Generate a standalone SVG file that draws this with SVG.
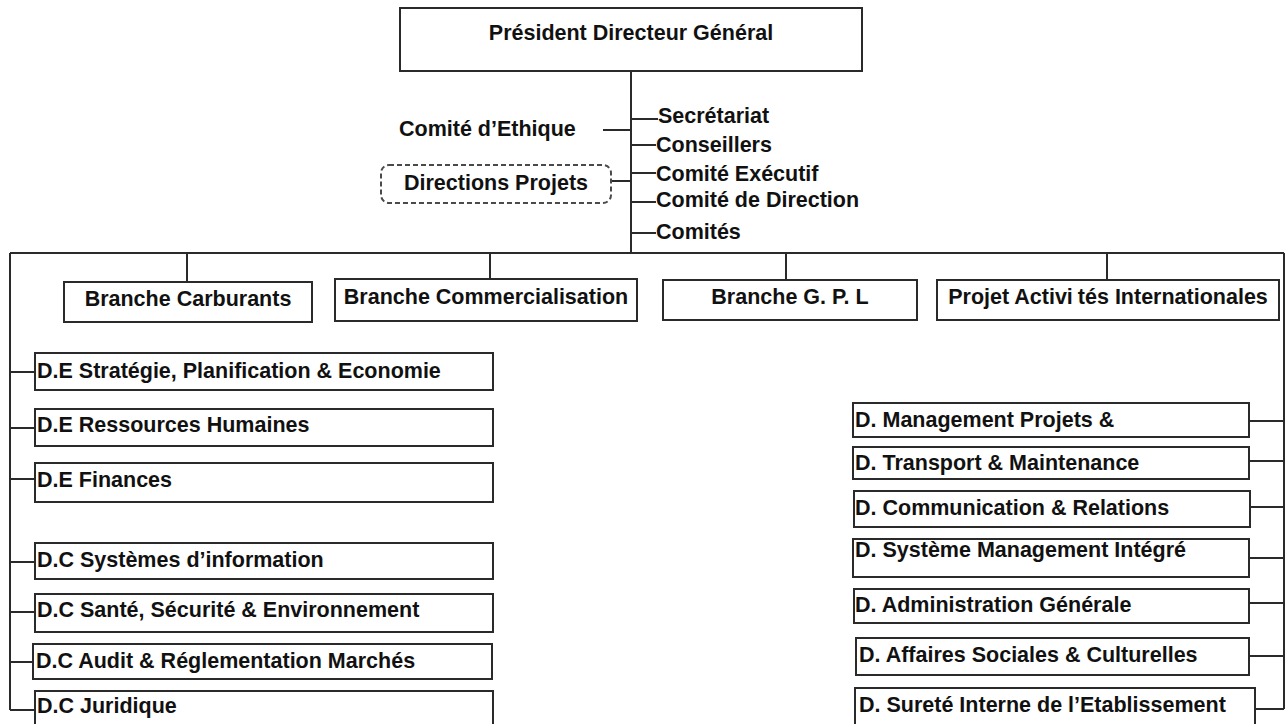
<svg xmlns="http://www.w3.org/2000/svg" width="1288" height="724" viewBox="0 0 1288 724">
  <style>
    .box { fill: #ffffff; stroke: #2a2a2a; stroke-width: 2; }
    .dash { fill: #ffffff; stroke: #4a4a4a; stroke-width: 2; stroke-dasharray: 5 3; }
    .lbl { font-family: "Liberation Sans", Arial, sans-serif; font-weight: bold; font-size: 21.5px; fill: #111111; }
    .mid { text-anchor: middle; }
    .conn line { stroke: #2a2a2a; stroke-width: 2; }
  </style>
  <rect x="0" y="0" width="1288" height="724" fill="#ffffff"/>

  <!-- connectors -->
  <g id="connectors" class="conn">
    <!-- trunk from the general management box -->
    <line x1="631" y1="71" x2="631" y2="253"/>
    <line x1="603" y1="130" x2="631" y2="130"/>
    <line x1="611" y1="181" x2="631" y2="181"/>
    <line x1="631" y1="119" x2="658" y2="119"/>
    <line x1="631" y1="145" x2="656" y2="145"/>
    <line x1="631" y1="173" x2="656" y2="173"/>
    <line x1="631" y1="202" x2="656" y2="202"/>
    <line x1="631" y1="233" x2="656" y2="233"/>
    <!-- main horizontal bus -->
    <line x1="10" y1="253" x2="1284" y2="253"/>
    <!-- branch drops -->
    <line x1="187" y1="253" x2="187" y2="282"/>
    <line x1="490" y1="253" x2="490" y2="279"/>
    <line x1="786" y1="253" x2="786" y2="280"/>
    <line x1="1107" y1="253" x2="1107" y2="280"/>
    <!-- left spine -->
    <line x1="10" y1="253" x2="10" y2="710"/>
    <line x1="10" y1="372" x2="35" y2="372"/>
    <line x1="10" y1="428" x2="35" y2="428"/>
    <line x1="10" y1="479" x2="35" y2="479"/>
    <line x1="10" y1="562" x2="35" y2="562"/>
    <line x1="10" y1="612" x2="35" y2="612"/>
    <line x1="10" y1="662" x2="33" y2="662"/>
    <line x1="10" y1="710" x2="35" y2="710"/>
    <!-- right spine -->
    <line x1="1284" y1="253" x2="1284" y2="709"/>
    <line x1="1249" y1="421" x2="1284" y2="421"/>
    <line x1="1249" y1="461" x2="1284" y2="461"/>
    <line x1="1250" y1="507" x2="1284" y2="507"/>
    <line x1="1249" y1="558" x2="1284" y2="558"/>
    <line x1="1249" y1="603" x2="1284" y2="603"/>
    <line x1="1249" y1="656" x2="1284" y2="656"/>
    <line x1="1255" y1="709" x2="1284" y2="709"/>
  </g>

  <!-- top management -->
  <g id="pdg">
    <rect class="box" x="400" y="8" width="462" height="63"/>
    <text class="lbl mid" x="631" y="40">Président Directeur Général</text>
  </g>
  <g id="comite-ethique">
    <text class="lbl" x="399" y="136">Comité d’Ethique</text>
  </g>
  <g id="directions-projets">
    <rect class="dash" x="381" y="165" width="230" height="38" rx="8" ry="8"/>
    <text class="lbl mid" x="496" y="190">Directions Projets</text>
  </g>
  <g id="secretariat"><text class="lbl" x="658" y="123">Secrétariat</text></g>
  <g id="conseillers"><text class="lbl" x="656" y="152">Conseillers</text></g>
  <g id="comite-executif"><text class="lbl" x="656" y="181">Comité Exécutif</text></g>
  <g id="comite-direction"><text class="lbl" x="656" y="207">Comité de Direction</text></g>
  <g id="comites"><text class="lbl" x="656" y="239">Comités</text></g>

  <!-- branches -->
  <g id="branche-carburants">
    <rect class="box" x="64" y="282" width="248" height="40"/>
    <text class="lbl mid" x="188" y="306">Branche Carburants</text>
  </g>
  <g id="branche-commercialisation">
    <rect class="box" x="335" y="279" width="302" height="42"/>
    <text class="lbl mid" x="486" y="304">Branche Commercialisation</text>
  </g>
  <g id="branche-gpl">
    <rect class="box" x="663" y="280" width="254" height="40"/>
    <text class="lbl mid" x="790" y="304">Branche G. P. L</text>
  </g>
  <g id="projet-activites-internationales">
    <rect class="box" x="937" y="280" width="342" height="40"/>
    <text class="lbl mid" x="1108" y="304">Projet Activi<tspan dx="5">tés</tspan> Internationales</text>
  </g>

  <!-- left column: executive and central directorates -->
  <g id="de-strategie">
    <rect class="box" x="35" y="353" width="458" height="37"/>
    <text class="lbl" x="37" y="378">D.E Stratégie, Planification &amp; Economie</text>
  </g>
  <g id="de-rh">
    <rect class="box" x="35" y="409" width="458" height="37"/>
    <text class="lbl" x="37" y="432">D.E Ressources Humaines</text>
  </g>
  <g id="de-finances">
    <rect class="box" x="35" y="463" width="458" height="39"/>
    <text class="lbl" x="37" y="487">D.E Finances</text>
  </g>
  <g id="dc-si">
    <rect class="box" x="35" y="543" width="458" height="36"/>
    <text class="lbl" x="37" y="567">D.C Systèmes d’information</text>
  </g>
  <g id="dc-hse">
    <rect class="box" x="35" y="594" width="458" height="38"/>
    <text class="lbl" x="37" y="617">D.C Santé, Sécurité &amp; Environnement</text>
  </g>
  <g id="dc-audit">
    <rect class="box" x="33" y="644" width="459" height="35"/>
    <text class="lbl" x="36" y="668">D.C Audit &amp; Réglementation Marchés</text>
  </g>
  <g id="dc-juridique">
    <rect class="box" x="35" y="691" width="458" height="45"/>
    <text class="lbl" x="37" y="713">D.C Juridique</text>
  </g>

  <!-- right column: directorates -->
  <g id="d-management-projets">
    <rect class="box" x="853" y="403" width="396" height="34"/>
    <text class="lbl" x="855" y="427">D. Management Projets &amp;</text>
  </g>
  <g id="d-transport">
    <rect class="box" x="853" y="447" width="396" height="32"/>
    <text class="lbl" x="855" y="470">D. Transport &amp; Maintenance</text>
  </g>
  <g id="d-communication">
    <rect class="box" x="854" y="491" width="396" height="36"/>
    <text class="lbl" x="855" y="515">D. Communication &amp; Relations</text>
  </g>
  <g id="d-smi">
    <rect class="box" x="853" y="539" width="396" height="38"/>
    <text class="lbl" x="855" y="557">D. Système Management Intégré</text>
  </g>
  <g id="d-administration">
    <rect class="box" x="854" y="589" width="395" height="34"/>
    <text class="lbl" x="855" y="612">D. Administration Générale</text>
  </g>
  <g id="d-affaires-sociales">
    <rect class="box" x="856" y="638" width="393" height="37"/>
    <text class="lbl" x="859" y="662">D. Affaires Sociales &amp; Culturelles</text>
  </g>
  <g id="d-surete">
    <rect class="box" x="855" y="688" width="400" height="48"/>
    <text class="lbl" x="859" y="712">D. Sureté Interne de l’Etablissement</text>
  </g>
</svg>
